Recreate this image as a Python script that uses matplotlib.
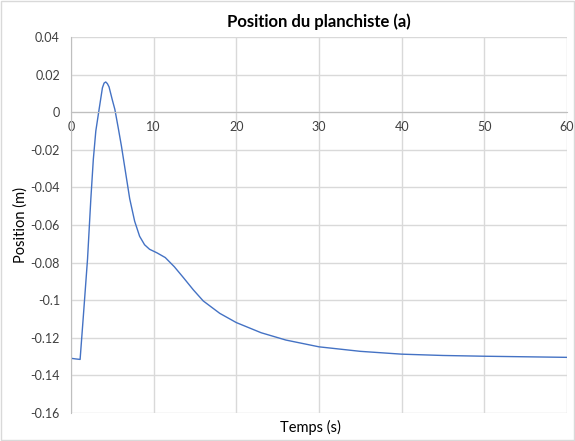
import numpy as np
import matplotlib
matplotlib.use("Agg")
from matplotlib import pyplot as plt
from matplotlib.ticker import FuncFormatter

# Values
temps = [0.0, 0.5, 1.1, 1.5, 2.0, 2.4, 2.7, 3.0, 3.4, 3.8, 4.0, 4.2, 4.4, 4.6, 5.0, 5.3, 5.7,
         6.1, 6.6, 7.1, 7.7, 8.3, 8.9, 9.5, 10.4, 11.4, 12.5, 13.6, 14.8, 16.0,
         18.0, 20.0, 23.0, 26.0, 30.0, 35.0, 40.0, 45.0, 50.0, 55.0, 60.0]
position = [-0.1309, -0.1312, -0.1315, -0.108, -0.078, -0.046, -0.025, -0.010, 0.0016,
            0.0130, 0.0155, 0.0161, 0.0152, 0.0135, 0.0065, 0.0016, -0.0080,
            -0.018, -0.032, -0.046, -0.058, -0.066, -0.0705, -0.0729, -0.0748, -0.0773,
            -0.0822, -0.088, -0.0945, -0.1004,
            -0.1070, -0.1119, -0.1173, -0.1212, -0.1248, -0.1272, -0.1287, -0.1294,
            -0.1298, -0.1301, -0.1304]
x_ticks = [0, 10, 20, 30, 40, 50, 60]
y_ticks = [0.04, 0.02, 0, -0.02, -0.04, -0.06, -0.08, -0.1, -0.12, -0.14, -0.16]

plt.rcParams['font.family'] = ['Lato', 'DejaVu Sans']
plt.rcParams['axes.unicode_minus'] = False

fig = plt.figure(figsize=(5.75, 4.41), dpi=100)
fig.patches.append(plt.Rectangle((0.002, 0.002), 0.996, 0.996, transform=fig.transFigure,
                                 fill=False, edgecolor='#d9d9d9', linewidth=1))
ax = fig.add_axes([0.1235, 0.0635, 0.8625, 0.8525])

ax.plot(temps, position, color='#4472C4', linewidth=1.0)

ax.set_xlim(0, 60)
ax.set_ylim(-0.16, 0.04)
ax.set_xticks(x_ticks)
ax.set_yticks(y_ticks)
ax.yaxis.set_major_formatter(FuncFormatter(lambda v, p: f"{round(v, 2):g}"))
ax.grid(True, color='#d9d9d9', linewidth=1)
ax.set_axisbelow(True)

for s in ['top', 'right']:
    ax.spines[s].set_visible(False)
ax.spines['left'].set_color('#bfbfbf')
ax.spines['bottom'].set_position(('data', 0))
ax.spines['bottom'].set_color('#bfbfbf')
ax.tick_params(axis='both', length=0, labelsize=9, colors='#404040')
ax.tick_params(axis='x', pad=6)
ax.tick_params(axis='y', pad=8)

ax.set_title('Position du planchiste (a)', fontsize=12, fontweight='bold', pad=7)
fig.text(0.54, 0.03, 'Temps (s)', ha='center', va='center', fontsize=10.5)
fig.text(0.035, 0.49, 'Position (m)', ha='center', va='center', rotation=90, fontsize=10.5)

fig.savefig('out.png', dpi=100)
